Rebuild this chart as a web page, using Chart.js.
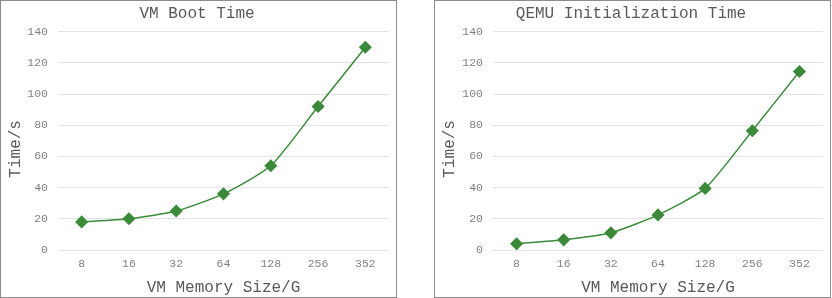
<!DOCTYPE html>
<html><head><meta charset="utf-8">
<script src="https://cdn.jsdelivr.net/npm/chart.js@4"></script>
<style>
html,body{margin:0;padding:0;background:#fff;}
.box{position:absolute;top:0;width:395px;height:296px;border:1px solid #8c8c8c;background:#fff;}
.box canvas{display:block;}
</style></head><body>
<div class="box" style="left:0px"><canvas id="c1" width="395" height="296"></canvas></div>
<div class="box" style="left:434px"><canvas id="c2" width="395" height="296"></canvas></div>
<script>
const categories = ["8","16","32","64","128","256","352"];
const bootTime = [18, 20, 25, 36, 54, 92, 130];
const qemuInitTime = [4, 6.5, 11, 22.5, 39.5, 76.5, 114.5];
const yTicks = [0,20,40,60,80,100,120,140];
const yTitle = 'Time/s';
const xTitle = 'VM Memory Size/G';

const FONT = "'Liberation Mono','Courier New',monospace";
const GREEN = '#3a8a3a';

const yTitlePlugin = {
  id:'yTitle',
  afterDraw(chart){
    const ctx = chart.ctx, a = chart.chartArea;
    ctx.save();
    ctx.translate(15, (a.top + a.bottom)/2 + 8);
    ctx.rotate(-Math.PI/2);
    ctx.font = "normal 16px " + FONT;
    ctx.fillStyle = '#595959';
    ctx.textAlign = 'center';
    ctx.textBaseline = 'middle';
    ctx.fillText(yTitle, 0, 0);
    ctx.restore();
  }
};

function make(id, title, values, leftW){
  new Chart(document.getElementById(id), {
    type:'line',
    data:{labels:categories, datasets:[{data:values, borderColor:GREEN, backgroundColor:GREEN,
      borderWidth:1.5, pointStyle:'rectRot', pointRadius:5.5, pointHoverRadius:5.5, tension:0.2}]},
    options:{
      responsive:false, animation:false, devicePixelRatio:1,
      layout:{padding:{left:2,right:5,top:0,bottom:0}},
      plugins:{legend:{display:false}, tooltip:{enabled:false},
        title:{display:true, text:title, color:'#595959', font:{family:FONT,size:16,weight:'normal'}, padding:{top:3,bottom:8.5}}},
      scales:{
        x:{offset:true, grid:{display:false, drawTicks:false}, border:{display:false},
          ticks:{color:'#808080', font:{family:FONT,size:11.5}, padding:7},
          title:{display:true, text:xTitle, color:'#595959', font:{family:FONT,size:16}, padding:{top:6,bottom:0}},
          afterFit:(s)=>{s.height=47;}},
        y:{min:0,max:140, afterBuildTicks:(s)=>{s.ticks=yTicks.map(v=>({value:v}));},
          grid:{color:'#e3e3e3', drawTicks:false}, border:{display:false},
          ticks:{color:'#808080', font:{family:FONT,size:11.5}, padding:10},
          afterFit:(s)=>{s.width=leftW;}}
      }
    },
    plugins:[yTitlePlugin]
  });
}
make('c1','VM Boot Time', bootTime, 55);
make('c2','QEMU Initialization Time', qemuInitTime, 56);
</script>
</body></html>
